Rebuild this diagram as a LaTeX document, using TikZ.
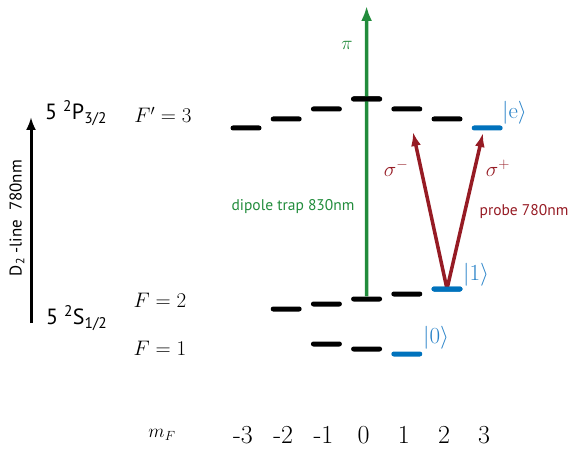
\RequirePackage{fix-cm}
\documentclass[tikz,border=0pt]{standalone}
\usepackage{fontspec}
\newfontfamily\labelfont{PT Sans}
\usetikzlibrary{arrows.meta}

\definecolor{trapgreen}{RGB}{34,140,60}
\definecolor{levelblue}{RGB}{0,114,188}
\definecolor{ketblue}{RGB}{40,130,200}
\definecolor{probered}{RGB}{150,27,36}

\begin{document}
\begin{tikzpicture}[
  x=1pt, y=-1pt,
  level/.style={rectangle, fill=black, rounded corners=2.5pt, minimum width=31pt, minimum height=5pt, inner sep=0pt},
  qubit/.style={level, fill=levelblue},
  term/.style={font=\labelfont\fontsize{22}{26}\selectfont, inner sep=0pt},
  hyper/.style={font=\fontsize{21}{24}\selectfont, inner sep=0pt},
  ket/.style={text=ketblue, font=\fontsize{23}{26}\selectfont, inner sep=0pt},
  mlabel/.style={font=\fontsize{26}{30}\selectfont, inner sep=0pt}
]
  \useasboundingbox (0,0) rectangle (573,449);

  % excited manifold F'=3
  \foreach \i/\y in {0/128, 1/119, 2/109, 3/99, 4/109, 5/119}
    \node[level] (P\i) at ({246+40.2*\i},\y) {};
  \node[qubit] (P6) at (487.2,128) {};

  % ground manifold F=2
  \foreach \i/\y in {1/309, 2/304, 3/299, 4/294}
    \node[level] (S\i) at ({246+40.2*\i},\y) {};
  \node[qubit] (S5) at (447,289) {};

  % ground manifold F=1
  \foreach \i/\y in {2/344, 3/349}
    \node[level] (R\i) at ({246+40.2*\i},\y) {};
  \node[qubit] (R4) at (406.8,354) {};

  % dipole trap
  \coordinate (pitop) at (366.6,6);
  \draw[trapgreen, line width=3.5pt, -{Latex[length=15pt,width=11pt]}] (S3.north) -- (pitop);
  \node[level] at (P3) {};
  \node[text=trapgreen, font=\fontsize{19}{22}\selectfont, inner sep=0pt] (pi) at (347,45) {$\pi$};
  \node[text=trapgreen, font=\labelfont\fontsize{15.5}{18}\selectfont, inner sep=0pt] (trap) at (293,207) {dipole trap 830nm};

  % probe transitions
  \coordinate (sminus) at (413,132);
  \coordinate (splus) at (483,133);
  \draw[probered, line width=3.5pt, -{Latex[length=14pt,width=10pt]}] (S5.center) -- (sminus);
  \draw[probered, line width=3.5pt, -{Latex[length=14pt,width=10pt]}] (S5.center) -- (splus);
  \node[qubit] at (S5) {};
  \node[text=probered, font=\fontsize{21}{24}\selectfont, inner sep=0pt] (sm) at (396,168) {$\sigma^-$};
  \node[text=probered, font=\fontsize{21}{24}\selectfont, inner sep=0pt] (sp) at (498,168) {$\sigma^+$};
  \node[text=probered, font=\labelfont\fontsize{15.5}{18}\selectfont, inner sep=0pt] (probe) at (524,212) {probe 780nm};

  % state labels
  \node[ket, anchor=west] (ke) at (502,113) {$|\mathrm{e}\rangle$};
  \node[ket, anchor=west] (k1) at (463,275) {$|1\rangle$};
  \node[ket, anchor=west] (k0) at (423,338) {$|0\rangle$};

  % D2 line
  \coordinate (dbot) at (31,323);
  \coordinate (dtop) at (31,117);
  \draw[line width=3pt, -{Latex[length=13pt,width=10pt]}] (dbot) -- (dtop);
  \node[rotate=90, font=\labelfont\fontsize{17}{20}\selectfont, inner sep=0pt] (dline) at (17,218) {D\textsubscript{2} -line\ \ 780nm};
  \node[term, anchor=west] (p32) at (45,113) {5 \textsuperscript{2}P\textsubscript{3/2}};
  \node[term, anchor=west] (s12) at (46,318) {5 \textsuperscript{2}S\textsubscript{1/2}};

  % hyperfine labels
  \node[hyper] (f3) at (163,115) {$F'=3$};
  \node[hyper] (f2) at (160,300) {$F=2$};
  \node[hyper] (f1) at (160,348) {$F=1$};

  % magnetic sublevels
  \node[font=\fontsize{19}{22}\selectfont, inner sep=0pt] (mf) at (162,435) {$m_F$};
  \foreach \i/\m in {0/-3, 1/-2, 2/-1, 3/0, 4/1, 5/2, 6/3}
    \node[mlabel] (m\i) at ({243+40.2*\i},435) {\m};
\end{tikzpicture}
\end{document}
